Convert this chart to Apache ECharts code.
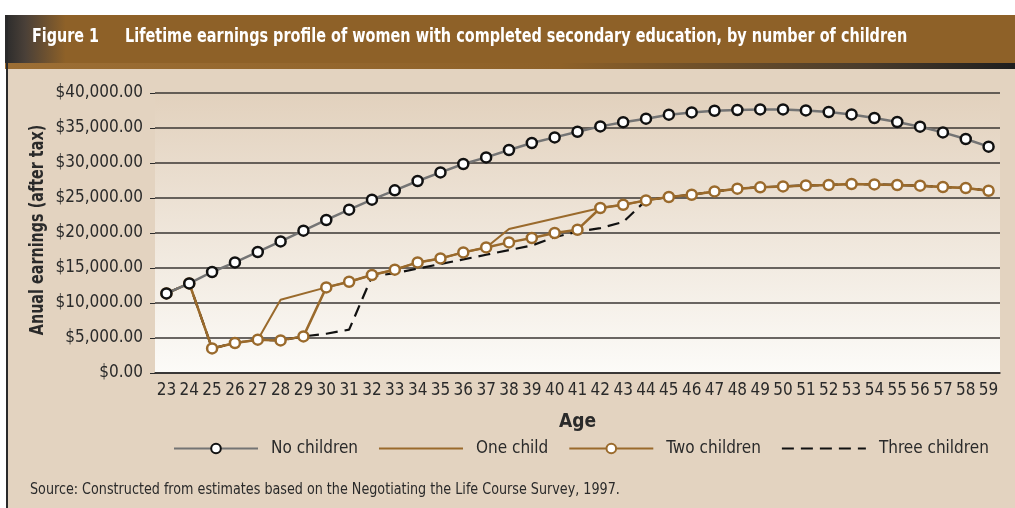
<!DOCTYPE html>
<html>
<head>
<meta charset="utf-8">
<script src="https://cdn.jsdelivr.net/npm/echarts@6/dist/echarts.min.js"></script>
<style>
html,body{margin:0;padding:0;background:#ffffff;}
#chart{width:1015px;height:508px;}
</style>
</head>
<body>
<div id="chart"></div>
<script>
var ages = ['23','24','25','26','27','28','29','30','31','32','33','34','35','36','37','38','39','40','41','42','43','44','45','46','47','48','49','50','51','52','53','54','55','56','57','58','59'];
var noChildren = [11370,12800,14430,15800,17290,18800,20330,21860,23330,24760,26090,27430,28660,29860,30800,31860,32860,33660,34470,35230,35830,36330,36900,37230,37470,37570,37660,37660,37510,37290,36940,36430,35860,35190,34370,33430,32330];
var oneChild = [11370,12800,3510,4290,4760,10470,null,12230,13040,14000,14760,15800,16370,17230,17940,20570,null,null,null,23570,24040,24660,25140,25470,25940,26330,26520,26660,26800,26860,27000,26940,26860,26760,26570,26430,26040];
var twoChildren = [11370,12800,3510,4290,4760,4660,5230,12230,13040,14000,14760,15800,16370,17230,17940,18660,19290,20000,20470,23570,24040,24660,25140,25470,25940,26330,26520,26660,26800,26860,27000,26940,26860,26760,26570,26430,26040];
var threeChildren = [11370,12800,3510,4290,4760,4660,5230,5610,6190,13800,14260,14910,15570,16230,16890,17560,18210,19400,20200,20700,21570,24660,25140,25470,25940,26330,26520,26660,26800,26860,27000,26940,26860,26760,26570,26430,26040];
var seriesNames = ['No children','One child','Two children','Three children'];
var yTicks = {min:0, max:40000, interval:5000};
var titleFig = 'Figure 1';
var titleText = 'Lifetime earnings profile of women with completed secondary education, by number of children';
var yName = 'Anual earnings (after tax)';
var sourceText = 'Source: Constructed from estimates based on the Negotiating the Life Course Survey, 1997.';

var FONT = '"Liberation Sans Narrow", "DejaVu Sans Condensed", "Liberation Sans", sans-serif';
var BROWN = '#9A6A2C';
var INK = '#2a2a2a';
var chart = echarts.init(document.getElementById('chart'), null, {renderer:'canvas'});

function money(v){
  var s = Math.round(v).toString().replace(/\B(?=(\d{3})+(?!\d))/g, ',');
  return '$' + s + '.00';
}

chart.setOption({
  backgroundColor: '#ffffff',
  animation: false,
  graphic: [
    {type:'rect', z:-10, shape:{x:8, y:15, width:1007, height:493}, style:{fill:'#E3D3C0'}},
    {type:'rect', z:-9, shape:{x:5, y:15, width:1010, height:48},
      style:{fill:new echarts.graphic.LinearGradient(0,0,1,0,[
        {offset:0, color:'#2b2b2b'},{offset:0.02, color:'#4a4038'},{offset:0.06, color:'#8E6128'},{offset:1, color:'#8E6128'}])}},
    {type:'rect', z:-9, shape:{x:5, y:63, width:1010, height:6},
      style:{fill:new echarts.graphic.LinearGradient(0,0,1,0,[
        {offset:0, color:'#9C6E34'},{offset:0.55, color:'#8E6128'},{offset:0.85, color:'#4a3c2c'},{offset:1, color:'#1e1e1e'}])}},
    {type:'rect', z:-8, shape:{x:6, y:15, width:2, height:493}, style:{fill:'#2a2a2a'}},
    {type:'text', x:32, y:37, scaleX:0.84, style:{text:titleFig, fill:'#ffffff', font:'bold 19px ' + FONT, verticalAlign:'middle'}},
    {type:'text', x:125, y:37, scaleX:0.845, style:{text:titleText, fill:'#ffffff', font:'bold 19px ' + FONT, verticalAlign:'middle'}},
    {type:'text', x:38, y:230, rotation:Math.PI/2, scaleX:0.84, style:{text:yName, fill:INK, font:'bold 19px ' + FONT, align:'center', verticalAlign:'middle'}},
    {type:'text', x:30, y:490, scaleX:0.945, style:{text:sourceText, fill:INK, font:'15px ' + FONT, verticalAlign:'middle'}}
  ],
  grid: {
    left:155, right:15, top:93, bottom:135, show:true, borderWidth:0,
    backgroundColor: new echarts.graphic.LinearGradient(0,0,0,1,[
      {offset:0, color:'#E2D1BD'},{offset:1, color:'#FCFBF8'}])
  },
  legend: {
    data: [
      {name:seriesNames[0]},
      {name:seriesNames[1], itemStyle:{opacity:0}},
      {name:seriesNames[2]},
      {name:seriesNames[3], itemStyle:{opacity:0}}
    ],
    left: 168, top: 435,
    itemWidth: 84, itemHeight: 12, itemGap: 20,
    textStyle: {fontFamily: FONT, fontSize: 17, color:INK, padding:[0,0,0,8]}
  },
  xAxis: {
    type:'category', data: ages, boundaryGap:true,
    name:'Age', nameLocation:'middle', nameGap:40,
    nameTextStyle:{fontFamily:FONT, fontWeight:'bold', fontSize:19, color:INK},
    axisLine:{lineStyle:{color:INK, width:1.5}},
    axisTick:{alignWithLabel:true, inside:true, length:6, lineStyle:{color:INK, width:1}},
    axisLabel:{fontFamily:FONT, fontSize:17, color:INK, margin:9, interval:0}
  },
  yAxis: {
    type:'value', min:yTicks.min, max:yTicks.max, interval:yTicks.interval,
    axisLine:{show:false},
    axisTick:{show:true, length:5, lineStyle:{color:INK}},
    axisLabel:{fontFamily:FONT, fontSize:17, color:INK, margin:12, formatter:money},
    splitLine:{lineStyle:{color:'#3a3633', width:1.5}}
  },
  series: [
    {name:seriesNames[0], type:'line', data:noChildren, z:6,
      symbol:'circle', symbolSize:10, showAllSymbol:true,
      lineStyle:{color:'#747474', width:2.5},
      itemStyle:{color:'#ffffff', borderColor:'#111111', borderWidth:2.5}},
    {name:seriesNames[1], type:'line', data:oneChild, z:3, connectNulls:true,
      symbol:'none', lineStyle:{color:BROWN, width:2}, itemStyle:{color:BROWN}},
    {name:seriesNames[2], type:'line', data:twoChildren, z:5,
      symbol:'circle', symbolSize:10, showAllSymbol:true,
      lineStyle:{color:BROWN, width:2.5},
      itemStyle:{color:'#ffffff', borderColor:BROWN, borderWidth:2.5}},
    {name:seriesNames[3], type:'line', data:threeChildren, z:4,
      symbol:'none', lineStyle:{color:'#111111', width:2.2, type:[12,7]}, itemStyle:{color:'#111111'}}
  ]
});
</script>
</body>
</html>
